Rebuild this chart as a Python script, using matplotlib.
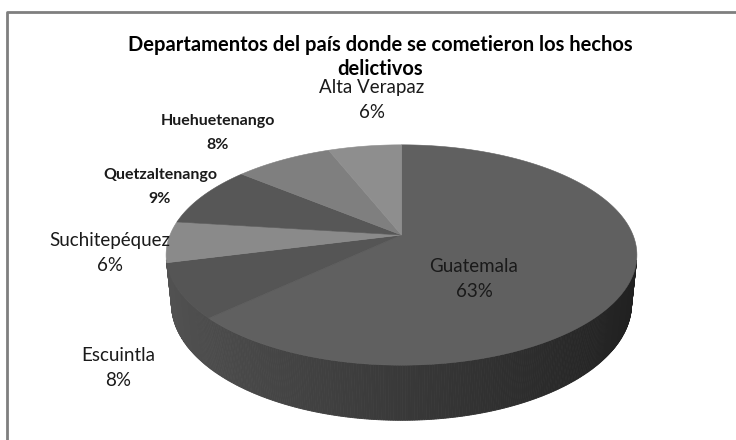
import numpy as np
import matplotlib
matplotlib.use("Agg")
import matplotlib.pyplot as plt
from matplotlib.patches import Polygon

# ---- data ----
categories = ["Guatemala", "Escuintla", "Suchitepéquez", "Quetzaltenango",
              "Huehuetenango", "Alta Verapaz"]
percent = [63, 8, 6, 9, 8, 6]
top_colors = ["#606060", "#555555", "#8a8a8a", "#575757", "#7f7f7f", "#8e8e8e"]
title = "Departamentos del país donde se cometieron los hechos\ndelictivos"

# label positions (pixels) and styles
label_pos = [(474, 279), (118, 368), (110, 253), (160, 187), (218, 133), (372, 100)]
label_bold = [False, False, False, True, True, False]

# ---- projection (perspective 3-D pie) ----
CX, CY = 401.5, 235.0
F, DIST = 1132.0, 4.89
PHI = np.radians(27.4)
H = 0.24


def proj(theta, level):
    u, v = np.cos(theta), np.sin(theta)
    h = H * level
    xc = u
    yc = -h * np.cos(PHI) + v * np.sin(PHI)
    zc = DIST + h * np.sin(PHI) + v * np.cos(PHI)
    return CX + F * xc / zc, CY - F * yc / zc


fig = plt.figure(figsize=(7.36, 4.40), dpi=100)
ax = fig.add_axes([0, 0, 1, 1])
ax.set_xlim(0, 736)
ax.set_ylim(440, 0)
ax.axis("off")

# chart border (left and top visible)
ax.plot([7, 7, 760], [460, 12, 12], color="#7f7f7f", lw=2, solid_capstyle="butt")

total = float(sum(percent))
starts = []
a = np.pi / 2
for p in percent:
    sweep = 2 * np.pi * p / total
    starts.append((a, a - sweep))
    a -= sweep

# side faces
quads = []
for i, (a0, a1) in enumerate(starts):
    n = max(4, int(abs(a1 - a0) / np.radians(0.5)))
    ts = np.linspace(a0, a1, n + 1)
    for t0, t1 in zip(ts[:-1], ts[1:]):
        tm = 0.5 * (t0 + t1)
        v = np.sin(tm)
        if -1 - v * DIST * np.cos(PHI) <= -0.02:
            continue
        u = np.cos(tm)
        g = (57 - 26 * u) / 255.0
        if i == 2:
            g = (80 - 20 * u) / 255.0
        pts = [proj(t0, 0), proj(t1, 0), proj(t1, 1), proj(t0, 1)]
        quads.append((v, pts, (g, g, g)))
quads.sort(key=lambda q: -q[0])
for _, pts, col in quads:
    ax.add_patch(Polygon(pts, closed=True, facecolor=col, edgecolor=col, lw=0.6))

# top faces
for i, (a0, a1) in enumerate(starts):
    ts = np.linspace(a0, a1, 200)
    pts = [(CX, CY)] + [proj(t, 0) for t in ts]
    ax.add_patch(Polygon(pts, closed=True, facecolor=top_colors[i],
                         edgecolor=top_colors[i], lw=0.4))

# labels
for name, p, (lx, ly), b in zip(categories, percent, label_pos, label_bold):
    if b:
        ax.text(lx, ly, f"{name}\n{p}%", ha="center", va="center", fontsize=11.5,
                fontweight="bold", family="Lato", color="#1a1a1a", linespacing=1.95)
    else:
        ax.text(lx, ly, f"{name}\n{p}%", ha="center", va="center", fontsize=13.5,
                family="Lato", color="#1a1a1a", linespacing=1.55)

ax.text(380, 57, title, ha="center", va="center", fontsize=14.5,
        fontweight="bold", family="Lato", color="black", linespacing=1.3)

fig.savefig("out.png", dpi=100, facecolor="white")
